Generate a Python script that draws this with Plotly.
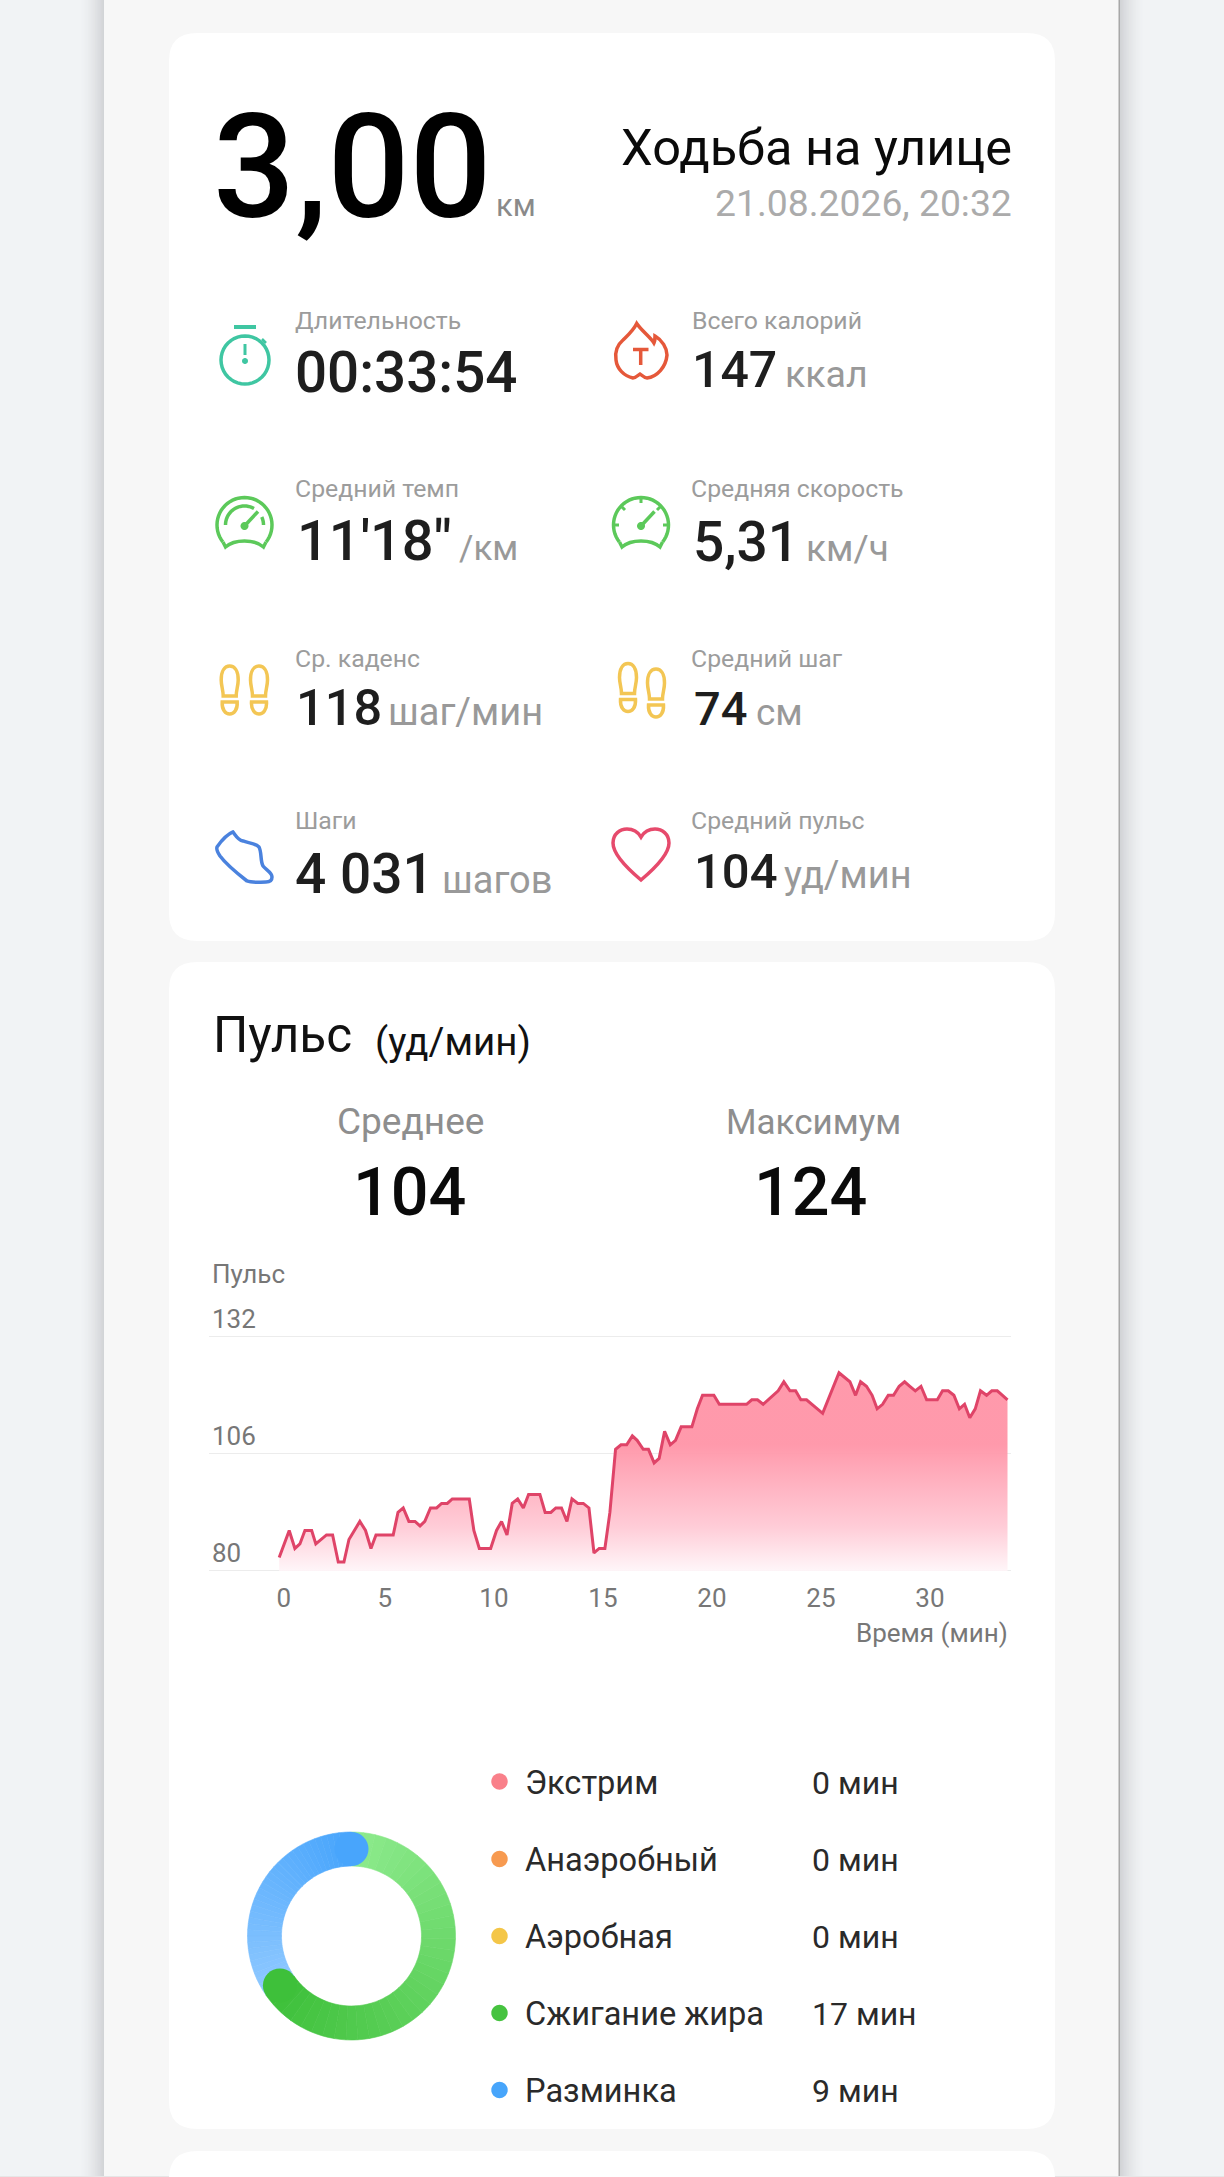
import math
import plotly.graph_objects as go

W, H = 1224, 2177

# ---------- data ----------
distance_value = "3,00"
distance_unit = "км"
activity_title = "Ходьба на улице"
activity_date = "21.08.2026, 20:32"

metric_labels = ["Длительность", "Всего калорий", "Средний темп", "Средняя скорость",
                 "Ср. каденс", "Средний шаг", "Шаги", "Средний пульс"]
metric_values = ["00:33:54", "147", "11'18\"", "5,31", "118", "74", "4 031", "104"]
metric_units = ["", "ккал", "/км", "км/ч", "шаг/мин", "см", "шагов", "уд/мин"]

hr_title = "Пульс"
hr_unit = "(уд/мин)"
hr_summary_labels = ["Среднее", "Максимум"]
hr_summary_values = ["104", "124"]

minutes = [0.15, 0.61, 0.87, 1.10, 1.33, 1.64, 1.83, 2.32, 2.60, 2.86, 3.12, 3.35, 3.85, 4.11, 4.36, 4.59,
           5.38, 5.60, 5.84, 6.10, 6.38, 6.61, 6.83, 7.09, 7.37, 7.60, 7.86, 8.09, 8.87, 9.08, 9.33, 9.85,
           10.12, 10.35, 10.60, 10.84, 11.09, 11.35, 11.59, 12.11, 12.35, 12.61, 12.84, 13.10, 13.35, 13.58,
           13.85, 14.10, 14.36, 14.59, 14.83, 15.09, 15.32, 15.58, 15.83, 16.09, 16.35, 16.57, 16.85, 17.09,
           17.35, 17.58, 17.83, 18.09, 18.33, 18.59, 19.08, 19.33, 19.57, 20.09, 20.34, 21.59, 21.83, 22.09,
           22.35, 22.58, 23.04, 23.30, 23.58, 23.84, 24.08, 24.34, 25.08, 25.83, 26.10, 26.33, 26.59, 26.82,
           27.09, 27.35, 27.58, 27.83, 28.09, 28.33, 28.59, 28.84, 29.08, 29.33, 29.59, 29.85, 30.34, 30.58,
           30.84, 31.10, 31.35, 31.59, 31.83, 32.08, 32.32, 32.60, 32.84, 33.09, 33.33, 33.56]
heart_rate = [83, 89, 85, 86, 89, 89, 86, 88, 88, 82, 82, 87, 91, 89, 85, 88,
              88, 93, 94, 91, 91, 90, 91, 94, 94, 95, 95, 96, 96, 89, 85, 85,
              89, 91, 88, 95, 96, 94, 97, 97, 93, 93, 94, 94, 91, 96,
              95, 95, 94, 84, 85, 85, 93, 107, 108, 108, 110, 109, 107, 107,
              104, 105, 111, 108, 109, 112, 112, 116, 119, 119, 117, 117, 118, 118,
              117, 118, 120, 122, 120, 120, 118, 118, 115, 124, 123, 122, 119, 122,
              121, 119, 116, 117, 119, 119, 121, 122, 121, 120, 121, 118, 118, 120,
              120, 119, 116, 117, 114, 116, 120, 119, 120, 120, 119, 118]
x_tick_labels = ["0", "5", "10", "15", "20", "25", "30"]
y_tick_labels = [80, 106, 132]

zone_names = ["Экстрим", "Анаэробный", "Аэробная", "Сжигание жира", "Разминка"]
zone_minutes = [0, 0, 0, 17, 9]
zone_text = ["0 мин", "0 мин", "0 мин", "17 мин", "9 мин"]

# ---------- helpers ----------
FONT = "Roboto"
annotations, shapes = [], []


def T(x, base, text, size, color, anchor="left", weight=400):
    y_px = base + 0.244 * size
    annotations.append(dict(x=x / W, y=1 - y_px / H, xref="paper", yref="paper", xanchor=anchor,
                            yanchor="bottom", text=text, showarrow=False, borderpad=0, borderwidth=0,
                            font=dict(family=FONT, size=size, color=color, weight=weight)))


def P(d):
    out, is_x = [], True
    for t in d.split():
        if t.isalpha():
            out.append(t)
            is_x = True
        else:
            v = float(t)
            out.append(f"{v / W:.6f}" if is_x else f"{1 - v / H:.6f}")
            is_x = not is_x
    return " ".join(out)


def path(d, line=None, lw=3.5, fill=None):
    shapes.append(dict(type="path", xref="paper", yref="paper", path=P(d), layer="below",
                       fillcolor=fill or "rgba(0,0,0,0)",
                       line=dict(color=line or "rgba(0,0,0,0)", width=lw if line else 0)))


def rect(x0, y0, x1, y1, fill):
    shapes.append(dict(type="rect", xref="paper", yref="paper", x0=x0 / W, x1=x1 / W, y0=1 - y0 / H, y1=1 - y1 / H,
                       fillcolor=fill, line=dict(width=0), layer="below"))


def round_rect(x0, y0, x1, y1, r, fill):
    d = (f"M {x0 + r} {y0} L {x1 - r} {y0} Q {x1} {y0} {x1} {y0 + r} L {x1} {y1 - r} Q {x1} {y1} {x1 - r} {y1} "
         f"L {x0 + r} {y1} Q {x0} {y1} {x0} {y1 - r} L {x0} {y0 + r} Q {x0} {y0} {x0 + r} {y0} Z")
    path(d, fill=fill)


def arc(cx, cy, r, a0, a1, n=28):
    """angles in degrees clockwise from 12 o'clock"""
    pts = []
    for i in range(n + 1):
        a = math.radians(a0 + (a1 - a0) * i / n)
        pts.append((cx + r * math.sin(a), cy - r * math.cos(a)))
    return "M " + " L ".join(f"{x:.2f} {y:.2f}" for x, y in pts)


def disc(cx, cy, r, fill):
    path(arc(cx, cy, r, 0, 360, 36) + " Z", fill=fill)


# ---------- page background ----------
rect(104, 0, 1119, H, "#F7F7F7")
for k in range(24):
    a = 0.17 * (1 - k / 24) ** 1.6
    rect(103 - k, 0, 104 - k, H, f"rgba(60,60,70,{a:.3f})")
    rect(1120 + k, 0, 1121 + k, H, f"rgba(60,60,70,{a:.3f})")
rect(1118.5, 0, 1120, H, "#A8A8A8")
rect(0, 2176, W, 2177, "#E6E6E6")
round_rect(169, 33, 1055, 941, 28, "#FFFFFF")
round_rect(169, 962, 1055, 2129, 28, "#FFFFFF")
round_rect(169, 2151, 1055, 2240, 28, "#FFFFFF")

# ---------- top block ----------
T(213, 216.5, distance_value, 144.5, "#000000", weight=500)
T(496, 216, distance_unit, 31, "#8A8A8A")
T(1012, 165, activity_title, 50.5, "#0A0A0A", "right", 400)
T(1012, 216, activity_date, 37.3, "#ABABAB", "right")

label_pos = [(295, 329), (692, 329), (295, 497), (691, 497), (295, 666.5), (691, 666.5), (295, 829), (691, 829)]
value_pos = [(295, 392), (692, 387), (297, 560.5), (693, 560.5), (296, 725), (694, 725), (295, 892.5), (694, 888)]
value_size = [56.5, 50, 56, 55, 50.5, 47, 55, 49]
unit_x = [0, 784.5, 459, 806, 388, 755.5, 441.5, 784]
unit_size = [0, 37.5, 35, 37, 38, 37, 38, 38]
for i in range(8):
    T(label_pos[i][0], label_pos[i][1], metric_labels[i], 24.8, "#9C9C9C")
    T(value_pos[i][0], value_pos[i][1], metric_values[i], value_size[i], "#1E1E1E", weight=500)
    if metric_units[i]:
        T(unit_x[i], value_pos[i][1], metric_units[i], unit_size[i], "#999999")

# ---------- icons ----------
TEAL = "#3FC6A2"
path(arc(245, 360, 24, 0, 360, 40) + " Z", TEAL)
path("M 234 327 L 256 327", TEAL, 4)
path("M 245 344 L 245 355", TEAL, 3)
disc(245, 361, 3, TEAL)
path("M 262 339 L 266 343", TEAL, 2.5)

RED = "#E5583A"
path("M 636.7 323.5 C 633 331 628 335 623 340 C 616 346 615 354 616 360 C 617 369 624 376 633 378 "
     "C 636 378 638 375 640 374 C 642 375 644 378 647 378 C 657 377 666 367 667 355 "
     "C 667 348 662 340 655 336 C 655 339 655 341 654 343 C 651 338 641 330 636.7 323.5 Z", RED)
path("M 633 349.5 L 648.5 349.5 M 640.7 349.5 L 640.7 365", RED)

GREEN = "#5CC95A"
for cx in (244.5, 641):
    path(arc(cx, 525, 27.5, -128, 128, 40), GREEN)
    path(f"M {cx - 21.5} 542 L {cx - 19} 547 C {cx - 10} 539 {cx + 10} 539 {cx + 19} 547 L {cx + 21.5} 542", GREEN)
    disc(cx, 526, 4, GREEN)
    path(f"M {cx} 526 L {cx + 13.5} 511.5", GREEN)
path(arc(244.5, 525, 19, -90, 30, 20), GREEN)
path(arc(244.5, 525, 19, 65, 90, 8), GREEN)
path("M 641 499 L 641 503 M 615 525 L 619 525 M 663 525 L 667 525 M 622 507 L 625 510 M 660 507 L 657 510", GREEN, 3)

YEL = "#F3C654"
foot_sets = [(229.7, 666, 259, 666), (628, 663.5, 656, 669)]
for x1, y1, x2, y2 in foot_sets:
    for cx, top in ((x1, y1), (x2, y2)):
        path(f"M {cx - 8.5} {top + 14} C {cx - 8.5} {top + 5} {cx - 5} {top} {cx} {top} "
             f"C {cx + 5} {top} {cx + 8.5} {top + 5} {cx + 8.5} {top + 14} C {cx + 8.5} {top + 20} {cx + 6.5} {top + 24} {cx + 6.5} {top + 30} "
             f"L {cx - 6.5} {top + 30} C {cx - 6.5} {top + 24} {cx - 8.5} {top + 20} {cx - 8.5} {top + 14} Z", YEL)
        path(f"M {cx - 7.5} {top + 36} L {cx + 7.5} {top + 36} C {cx + 8} {top + 44} {cx + 4} {top + 48} {cx} {top + 48} "
             f"C {cx - 4} {top + 48} {cx - 8} {top + 44} {cx - 7.5} {top + 36} Z", YEL)

BLUE = "#4A82DE"
path("M 217 847 C 222 840 228 834 233 832 C 236 836 238 840 243 841 C 248 843 255 843 259 847 "
     "C 262 853 260 860 263 866 C 266 870 272 872 272 877 C 272 881 269 882 266 882 "
     "C 259 882 252 883 247 881 C 238 874 226 864 220 856 C 218 853 216 850 217 847 Z", BLUE)

PINK = "#E64A6C"
path("M 641 880 C 622 864 613 852 613 843 C 613 834 620 829 627 829 C 633 829 638 832 641 837 "
     "C 644 832 649 829 655 829 C 662 829 669 834 669 843 C 669 852 660 864 641 880 Z", PINK)

# ---------- heart-rate header ----------
T(213, 1052, hr_title, 49.5, "#111111", weight=400)
T(375, 1055, hr_unit, 38.5, "#111111", weight=400)
for cx, lab, ls, cx2, val in zip((411, 813), hr_summary_labels, (37, 35), (410, 810), hr_summary_values):
    T(cx, 1134, lab, ls, "#8E8E8E", "center")
    T(cx2, 1215, val, 66.5, "#0A0A0A", "center", 500)

T(212, 1283, hr_title, 26, "#777777")
T(1008, 1641.5, "Время (мин)", 26, "#777777", "right")

# ---------- zones legend ----------
dot_colors = ["#F9808A", "#F79A50", "#F4C648", "#46C340", "#47A5FB"]
dot_y = [1781.5, 1859, 1936, 2013, 2090]
for name, txt, col, y in zip(zone_names, zone_text, dot_colors, dot_y):
    disc(499.5, y, 8.2, col)
    T(525, y + 12.5, name, 32.6, "#2A2A2A")
    T(812, y + 12.5, txt, 32, "#2A2A2A")

# ---------- figure ----------
fig = go.Figure()

fig.add_trace(go.Scatter(x=[minutes[0], minutes[-1]], y=[y_tick_labels[0]] * 2, mode="lines",
                         line=dict(width=0, color="rgba(0,0,0,0)"), hoverinfo="skip", showlegend=False))
fig.add_trace(go.Scatter(
    x=minutes, y=heart_rate, mode="lines", fill="tonexty", hoverinfo="skip",
    line=dict(color="#DF4468", width=3, shape="linear"),
    fillgradient=dict(type="vertical", start=80, stop=108,
                      colorscale=[[0, "rgba(255,245,248,0.9)"], [0.35, "rgba(255,200,212,0.92)"],
                                  [1, "rgba(255,148,167,0.95)"]]),
    showlegend=False))

# ring: each zone is split into even slices only to paint its colour sweep


def mix(c0, c1, t):
    return "rgb(" + ",".join(str(round(a + (b - a) * t)) for a, b in zip(c0, c1)) + ")"


sweeps = {"Сжигание жира": ((140, 234, 140), (62, 192, 58)), "Разминка": ((142, 200, 255), (72, 165, 252))}
N = 36
ring_vals, ring_cols, ring_labels = [], [], []
for name, mins in zip(zone_names, zone_minutes):
    if mins:
        c0, c1 = sweeps[name]
        for i in range(N):
            ring_vals.append(mins / N)
            ring_labels.append(f"{name} {i}")
            ring_cols.append(mix(c0, c1, i / (N - 1)))

cx, cy, R_out, R_in = 351.5, 1936, 104, 70
fig.add_trace(go.Pie(
    values=ring_vals, labels=ring_labels, sort=False, direction="clockwise", rotation=0,
    hole=R_in / R_out, textinfo="none", hoverinfo="skip", showlegend=False,
    marker=dict(colors=ring_cols, line=dict(color=ring_cols, width=0.6)),
    domain=dict(x=[(cx - R_out) / W, (cx + R_out) / W], y=[1 - (cy + R_out) / H, 1 - (cy - R_out) / H])))

# round ends of the ring, placed from the zone totals
R_mid, R_cap = (R_out + R_in) / 2, (R_out - R_in) / 2
end_angle = 360 * zone_minutes[3] / sum(zone_minutes)
a = math.radians(end_angle)
cap_shapes = []
for px, py, col in ((cx, cy - R_mid, "#48A5FC"),
                    (cx + R_mid * math.sin(a), cy - R_mid * math.cos(a), "#3EC03A")):
    cap_shapes.append(dict(type="circle", xref="paper", yref="paper", layer="above",
                           x0=(px - R_cap) / W, x1=(px + R_cap) / W,
                           y0=1 - (py + R_cap) / H, y1=1 - (py - R_cap) / H,
                           fillcolor=col, line=dict(width=0)))

fig.update_layout(
    width=W, height=H, autosize=False, margin=dict(l=0, r=0, t=0, b=0),
    paper_bgcolor="#F1F3F5", plot_bgcolor="rgba(0,0,0,0)",
    font=dict(family=FONT),
    shapes=shapes + cap_shapes, annotations=annotations, showlegend=False,
    xaxis=dict(domain=[209 / W, 1011 / W], range=[-3.07, 33.72], showgrid=False, zeroline=False, showline=False,
               tickmode="array", tickvals=[0.36, 5, 10, 15, 20, 25, 30], ticktext=x_tick_labels,
               ticks="", ticklabelstandoff=0, tickfont=dict(family=FONT, size=26, color="#777777"), fixedrange=True),
    yaxis=dict(domain=[1 - 1580 / H, 1 - 1300.7 / H], range=[78, 140], tickmode="array", tickvals=y_tick_labels,
               ticks="", ticklabelposition="inside top", tickfont=dict(family=FONT, size=26, color="#777777"),
               showgrid=True, gridcolor="#ECECEC", gridwidth=1.4, zeroline=False, showline=False, fixedrange=True),
)

fig.write_html("out.html", config=dict(displayModeBar=False),
               post_script="document.body.style.margin='0';document.body.style.overflow='hidden';")
